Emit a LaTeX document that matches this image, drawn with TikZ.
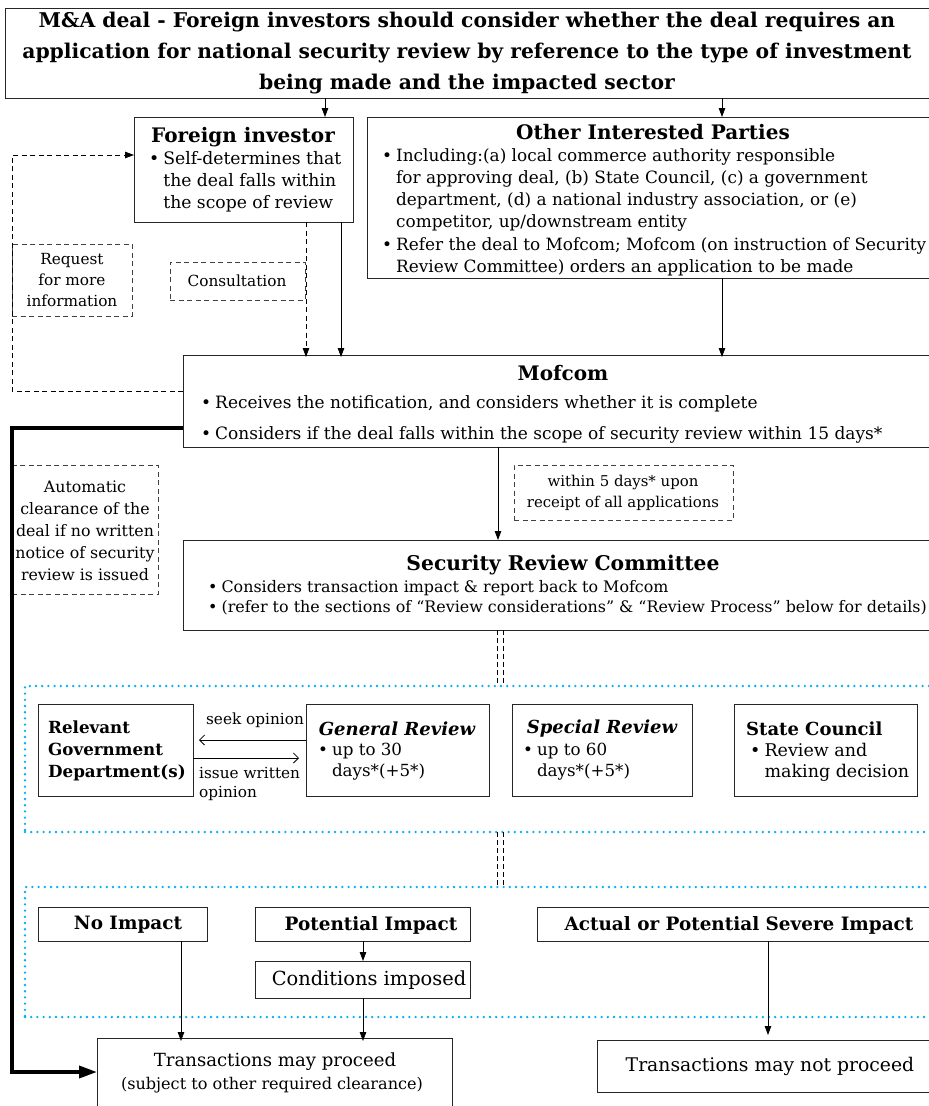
\documentclass[tikz,border=0pt]{standalone}
\usepackage{fontspec}
\setmainfont{DejaVu Serif}
\usetikzlibrary{arrows.meta,calc}
\definecolor{dotblue}{RGB}{0,176,240}
\newcommand{\fs}[2]{\fontsize{#1}{#2}\selectfont}
\newcommand{\bul}{\textbullet\hspace{4pt}}
\newcommand{\ind}{\phantom{\textbullet}\hspace{4pt}}
\begin{document}
\begin{tikzpicture}[x=1pt,y=-1pt,
  box/.style={draw=black!85,line width=0.9pt,anchor=north west,inner sep=0pt,outer sep=0pt},
  dbox/.style={box,draw=black!75,dash pattern=on 5pt off 3.5pt,line width=0.8pt},
  region/.style={anchor=north west,inner sep=0pt,outer sep=0pt,draw=dotblue,line width=2.6pt,dash pattern=on 0pt off 6.2pt,line cap=round},
  txt/.style={inner sep=0pt,align=center},
  ltxt/.style={inner sep=0pt,align=left,anchor=north west},
  arr/.style={-{Triangle[length=9pt,width=6.5pt]},line width=0.8pt},
  darr/.style={arr,dash pattern=on 5pt off 3.5pt},
  dline/.style={line width=0.7pt,dash pattern=on 5pt off 3pt},
  barb/.style={-{Straight Barb[length=5pt,width=10pt]},line width=0.8pt}
]
\useasboundingbox (0,0) rectangle (929,1106);
\fill[white] (0,0) rectangle (929,1106);
\clip (0,0) rectangle (929,1106);

% ---------- boxes ----------
\node[box,minimum width=940pt,minimum height=90pt] (top) at (5,8) {};
\node[box,minimum width=219pt,minimum height=105pt] (fi) at (134,117) {};
\node[box,minimum width=580pt,minimum height=161pt] (oip) at (367,117) {};
\node[dbox,minimum width=120pt,minimum height=72pt] (req) at (12,244) {};
\node[dbox,minimum width=135pt,minimum height=38pt] (con) at (170,262) {};
\node[box,minimum width=760pt,minimum height=92pt] (mof) at (183,355) {};
\node[dbox,minimum width=219pt,minimum height=55pt] (w5) at (514,465) {};
\node[dbox,minimum width=146pt,minimum height=129pt] (auto) at (12,465) {};
\node[box,minimum width=760pt,minimum height=90pt] (src) at (183,540) {};

\node[region,minimum width=940pt,minimum height=146pt] (reg1) at (25,686) {};
\node[box,minimum width=155pt,minimum height=92pt] (rgd) at (38,704) {};
\node[box,minimum width=183pt,minimum height=92pt] (gr) at (306,704) {};
\node[box,minimum width=180pt,minimum height=92pt] (sr) at (512,704) {};
\node[box,minimum width=183pt,minimum height=92pt] (sc) at (734,704) {};

\node[region,minimum width=940pt,minimum height=130pt] (reg2) at (25,887) {};
\node[box,minimum width=169pt,minimum height=34pt] (ni) at (38,907) {};
\node[box,minimum width=215pt,minimum height=34pt] (pi) at (255,907) {};
\node[box,minimum width=410pt,minimum height=34pt] (sv) at (537,907) {};
\node[box,minimum width=215pt,minimum height=37pt] (ci) at (255,961) {};
\node[box,minimum width=355pt,minimum height=90pt] (tp) at (97,1038) {};
\node[box,minimum width=350pt,minimum height=52pt] (tnp) at (597,1040) {};

% ---------- texts ----------
\node[txt,font=\bfseries\fs{20.3}{31}] (toptxt) at (467,53) {M\&A deal - Foreign investors should consider whether the deal requires an\\application for national security review by reference to the type of investment\\being made and the impacted sector};

\node[txt,font=\bfseries\fs{20}{22}] (fit) at (243,137) {Foreign investor};
\node[ltxt,font=\fs{17.2}{22}] (fib) at (149,151) {\bul Self-determines that\\\ind the deal falls within\\\ind the scope of review};

\node[txt,font=\bfseries\fs{20}{22}] (oipt) at (653,132) {Other Interested Parties};
\node[ltxt,font=\fs{16.9}{22.3}] (oipb) at (382,148) {\bul Including:(a) local commerce authority responsible\\\ind for approving deal, (b) State Council, (c) a government\\\ind department, (d) a national industry association, or (e)\\\ind competitor, up/downstream entity\\\bul Refer the deal to Mofcom; Mofcom (on instruction of Security\\\ind Review Committee) orders an application to be made};

\node[txt,font=\fs{15.3}{21}] (reqt) at (72,280) {Request\\for more\\information};
\node[txt,font=\fs{15.3}{21}] (cont) at (237,281) {Consultation};

\node[txt,font=\bfseries\fs{20}{24}] (moft) at (563,373) {Mofcom};
\node[txt,anchor=west,font=\fs{17}{20}] (mb1) at (201,404) {\bul Receives the notification, and considers whether it is complete};
\node[txt,anchor=west,font=\fs{17}{20}] (mb2) at (201,435) {\bul Considers if the deal falls within the scope of security review within 15 days*};

\node[txt,font=\fs{14.9}{21}] (w5t) at (623,493) {within 5 days* upon\\receipt of all applications};
\node[txt,font=\fs{15.8}{22}] (autot) at (85,531) {Automatic\\clearance of the\\deal if no written\\notice of security\\review is issued};

\node[txt,font=\bfseries\fs{20.3}{24}] (srct) at (563,565) {Security Review Committee};
\node[txt,anchor=west,font=\fs{15.9}{20}] (sb1) at (208,588) {\bul Considers transaction impact \& report back to Mofcom};
\node[txt,anchor=west,font=\fs{15.9}{20}] (sb2) at (208,608) {\bul (refer to the sections of “Review considerations” \& “Review Process” below for details)};

\node[txt,anchor=west,align=left,font=\bfseries\fs{16.7}{22}] (rgdt) at (48,751) {Relevant\\Government\\Department(s)};
\node[txt,font=\bfseries\itshape\fs{18}{22}] (grt) at (397,729) {General Review};
\node[ltxt,font=\fs{16.7}{21}] (grb) at (318,743) {\bul up to 30\\\ind days*(+5*)};
\node[txt,font=\bfseries\itshape\fs{18}{22}] (srt) at (602,729) {Special Review};
\node[ltxt,font=\fs{16.7}{21}] (srb) at (523,743) {\bul up to 60\\\ind days*(+5*)};
\node[txt,anchor=west,font=\bfseries\fs{18}{22}] (sct) at (746,729) {State Council};
\node[ltxt,font=\fs{17.5}{21}] (scb) at (750,743) {\bul Review and\\\ind making decision};

\node[txt,font=\fs{15.3}{19}] (seek) at (255,720) {seek opinion};
\node[ltxt,font=\fs{15.3}{19}] (issue) at (199,767) {issue written\\opinion};

\node[txt,font=\bfseries\fs{18.4}{22}] (nit) at (128,925) {No Impact};
\node[txt,font=\bfseries\fs{18.4}{22}] (pit) at (371,925) {Potential Impact};
\node[txt,font=\bfseries\fs{18.4}{22}] (svt) at (739,925) {Actual or Potential Severe Impact};
\node[txt,font=\fs{19.4}{22}] (cit) at (369,980) {Conditions imposed};
\node[txt,font=\fs{18.1}{22}] (tpt1) at (275,1062) {Transactions may proceed};
\node[txt,font=\fs{16.1}{20}] (tpt2) at (272,1085) {(subject to other required clearance)};
\node[txt,font=\fs{18.8}{22}] (tnpt) at (770,1066) {Transactions may not proceed};

% ---------- connector coordinates ----------
\coordinate (c325) at (325,0);
\coordinate (c722) at (722,0);
\coordinate (c306) at (306,0);
\coordinate (c341) at (341,0);
\coordinate (c498) at (498,0);
\coordinate (c181) at (181,0);
\coordinate (c363) at (363,0);
\coordinate (c768) at (768,0);
\coordinate (dd1) at (497,0);
\coordinate (dd2) at (503,0);
\coordinate (lp1) at (12,391);
\coordinate (lp2) at (12,155);
\coordinate (th1) at (12,428);
\coordinate (th2) at (12,1072);
\coordinate (sk) at (0,740);
\coordinate (is) at (0,758);

% ---------- connectors ----------
\draw[arr] (top.south -| c325) -- (fi.north -| c325);
\draw[arr] (top.south -| c722) -- (oip.north -| c722);
\draw[darr] (fi.south -| c306) -- ([yshift=-2pt]mof.north -| c306);
\draw[arr] (fi.south -| c341) -- ([yshift=-2pt]mof.north -| c341);
\draw[arr] (oip.south -| c722) -- ([yshift=-2pt]mof.north -| c722);
\draw[darr] (mof.west |- lp1) -- (lp1) -- (lp2) -- (fi.west |- lp2);
\draw[arr] (mof.south -| c498) -- (src.north -| c498);
\draw[line width=3.5pt,-{Triangle[length=18pt,width=12pt]}] (mof.west |- th1) -- (th1) -- (th2) -- (tp.west |- th2);

\draw[dline] (src.south -| dd1) -- (reg1.north -| dd1);
\draw[dline] (src.south -| dd2) -- (reg1.north -| dd2);
\draw[dline] (reg1.south -| dd1) -- (reg2.north -| dd1);
\draw[dline] (reg1.south -| dd2) -- (reg2.north -| dd2);

\draw[barb,shorten >=6pt] (gr.west |- sk) -- (rgd.east |- sk);
\draw[barb,shorten >=7pt] (rgd.east |- is) -- (gr.west |- is);

\draw[arr] (ni.south -| c181) -- ([yshift=-3pt]tp.north -| c181);
\draw[arr] (pi.south -| c363) -- (ci.north -| c363);
\draw[arr] (ci.south -| c363) -- ([yshift=-3pt]tp.north -| c363);
\draw[arr,shorten >=5pt] (sv.south -| c768) -- (tnp.north -| c768);
\end{tikzpicture}
\end{document}
